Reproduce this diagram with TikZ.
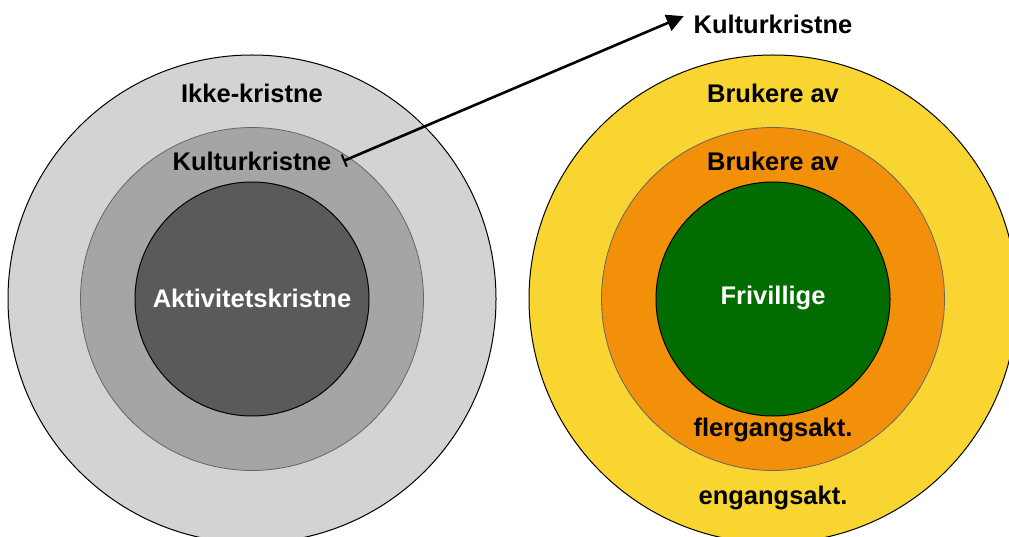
\documentclass[tikz,border=0pt]{standalone}
\usepackage{fontspec}
\setmainfont{Liberation Sans}
\usetikzlibrary{arrows.meta}
\definecolor{lightgrey}{HTML}{D3D3D3}
\definecolor{midgrey}{HTML}{A5A5A5}
\definecolor{darkgrey}{HTML}{5A5A5A}
\definecolor{ringyellow}{HTML}{F9D531}
\definecolor{ringorange}{HTML}{F3900A}
\definecolor{ringgreen}{HTML}{016C00}
\begin{document}
\begin{tikzpicture}
[x=1pt,y=-1pt,
  ringdecorate/.style={shape=circle,inner sep=0pt,draw=black,line width=1pt},%
  middecorate/.style={shape=circle,inner sep=0pt,draw=black!60,line width=0.8pt},%
  labeldecorate/.style={font=\fontsize{25.5}{30}\selectfont\bfseries,inner sep=2pt},%
  arrowdecorate/.style={{Bar[width=13pt,line width=2pt]}-{Triangle[length=17pt,width=17pt]},line width=2.6pt}]
\useasboundingbox (0,0) rectangle (1009,537);
\clip (0,0) rectangle (1009,537);
% circles, left
\node (outerL) at (252,299) [ringdecorate,fill=lightgrey,minimum size=488pt] {};
\node (midL) at (252,299) [middecorate,fill=midgrey,minimum size=343pt] {};
\node (innerL) at (252,299) [ringdecorate,fill=darkgrey,minimum size=234pt] {};
% circles, right
\node (outerR) at (773,299) [ringdecorate,fill=ringyellow,minimum size=488pt] {};
\node (midR) at (773,299) [middecorate,fill=ringorange,minimum size=343pt] {};
\node (innerR) at (773,299) [ringdecorate,fill=ringgreen,minimum size=234pt] {};
% labels
\node (ikke) at (252,93) [labeldecorate] {Ikke-kristne};
\node (kulturL) at (252,161) [labeldecorate,outer sep=10pt] {Kulturkristne};
\node (aktiv) at (252,298) [labeldecorate,text=white] {Aktivitetskristne};
\node (brukerA) at (773,93) [labeldecorate] {Brukere av};
\node (brukerB) at (773,161) [labeldecorate] {Brukere av};
\node (friv) at (773,298) [labeldecorate,text=white] {Frivillige};
\node (fler) at (773,430) [labeldecorate] {flergangsakt.};
\node (engang) at (773,498) [labeldecorate] {engangsakt.};
\node (kulturT) at (773,24) [labeldecorate,outer sep=8pt] {Kulturkristne};
% arrow
\draw[arrowdecorate] (kulturL.east) -- (kulturT.175);
\end{tikzpicture}
\end{document}
